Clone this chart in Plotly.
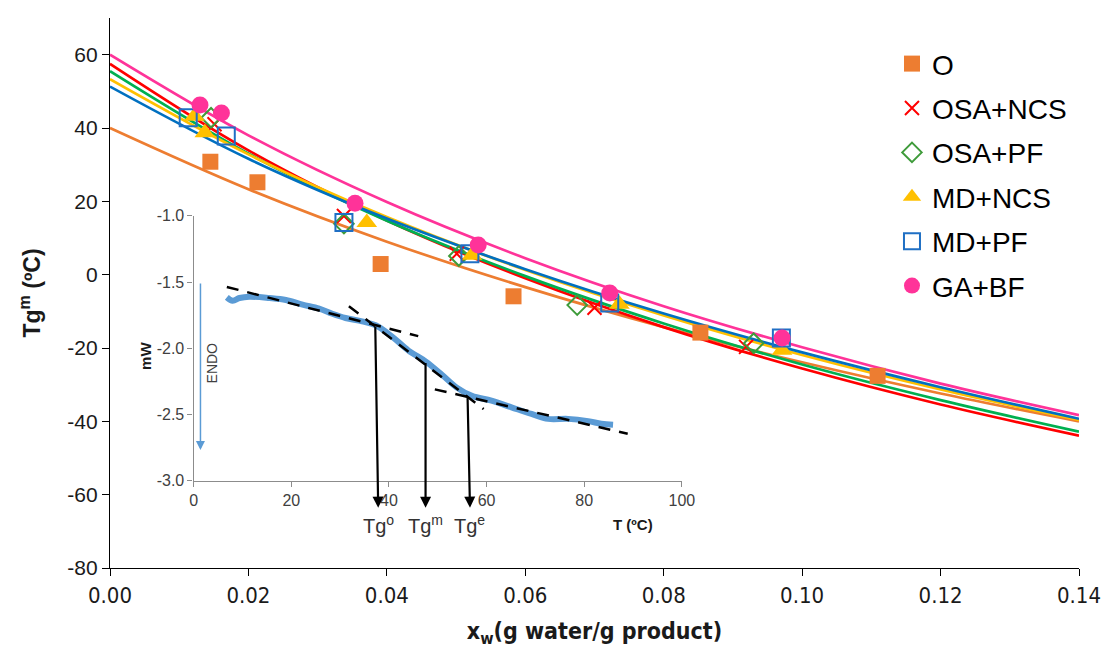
import plotly.graph_objects as go

# ---- Main chart: glass transition temperature vs water content ----
SERIES = ["O", "OSA+NCS", "OSA+PF", "MD+NCS", "MD+PF", "GA+BF"]

# Measured points (x_w, Tg^m)
O_X = [0.0145, 0.0213, 0.0391, 0.0583, 0.0853, 0.1109]
O_Y = [30.8, 25.2, 2.9, -5.9, -15.8, -27.6]

OSA_NCS_X = [0.0151, 0.0338, 0.0501, 0.0700, 0.0919]
OSA_NCS_Y = [41.0, 16.0, 5.7, -9.0, -19.7]

OSA_PF_X = [0.0146, 0.0338, 0.0504, 0.0675, 0.0930]
OSA_PF_Y = [42.8, 13.9, 5.1, -8.3, -18.7]

MD_NCS_X = [0.0122, 0.0137, 0.0371, 0.0523, 0.0736, 0.0971]
MD_NCS_Y = [43.2, 38.7, 14.2, 5.3, -8.1, -20.6]

MD_PF_X = [0.0113, 0.0168, 0.0338, 0.0520, 0.0722, 0.0970]
MD_PF_Y = [42.8, 37.8, 14.2, 5.7, -7.7, -17.3]

GA_BF_X = [0.0130, 0.0161, 0.0354, 0.0532, 0.0722, 0.0971]
GA_BF_Y = [46.3, 44.1, 19.5, 8.1, -5.0, -17.3]

# Fitted curves sampled along x_w
FIT_X = [0.00, 0.02, 0.04, 0.06, 0.08, 0.10, 0.12, 0.14]
O_FIT = [40.0, 23.3, 9.0, -3.4, -14.3, -23.9, -32.4, -40.0]
OSA_NCS_FIT = [57.5, 33.9, 14.8, -1.0, -14.3, -25.6, -35.4, -43.9]
OSA_PF_FIT = [55.5, 33.0, 14.7, -0.4, -13.3, -24.5, -34.2, -42.8]
MD_NCS_FIT = [53.3, 32.8, 15.7, 1.3, -11.1, -21.9, -31.3, -39.6]
MD_PF_FIT = [51.3, 31.6, 15.3, 1.5, -10.6, -21.2, -30.7, -39.3]
GA_BF_FIT = [60.0, 38.0, 19.8, 4.5, -8.6, -19.8, -29.7, -38.3]

X_TICKS = [0.00, 0.02, 0.04, 0.06, 0.08, 0.10, 0.12, 0.14]
Y_TICKS = [-80, -60, -40, -20, 0, 20, 40, 60]

# ---- Inset: DSC thermogram ----
DSC_T = [6.8, 8.0, 9.4, 11.4, 15.5, 18.9, 22.3, 25.7, 28.4, 31.1, 34.5, 37.3,
         40.7, 44.0, 47.5, 50.8, 53.9, 57.0, 61.0, 65.1, 69.2, 72.6, 76.7,
         80.8, 83.5, 85.9]
DSC_MW = [-1.616, -1.641, -1.621, -1.611, -1.621, -1.636, -1.671, -1.701,
          -1.740, -1.772, -1.797, -1.827, -1.914, -2.018, -2.100, -2.199,
          -2.298, -2.360, -2.397, -2.447, -2.497, -2.534, -2.534, -2.551,
          -2.571, -2.579]
BASE1_T, BASE1_MW = [6.8, 46.0], [-1.537, -1.909]
TANGENT_T, TANGENT_MW = [31.8, 59.4], [-1.683, -2.460]
BASE2_T, BASE2_MW = [49.4, 88.9], [-2.311, -2.646]
TG_LABELS = ["Tg<sup>o</sup>", "Tg<sup>m</sup>", "Tg<sup>e</sup>"]
TG_T_TOP = [37.2, 47.5, 56.1]
TG_MW_TOP = [-1.827, -2.100, -2.360]
TG_T_BOTTOM = [37.8, 47.5, 56.6]
INSET_X_TICKS = [0, 20, 40, 60, 80, 100]
INSET_Y_TICKS = [-3.0, -2.5, -2.0, -1.5, -1.0]

LINE_COLORS = ["#ED7D31", "#FF0000", "#00B050", "#FFC000", "#0070C0", "#FF3399"]
FITS = [O_FIT, OSA_NCS_FIT, OSA_PF_FIT, MD_NCS_FIT, MD_PF_FIT, GA_BF_FIT]
POINTS = [(O_X, O_Y), (OSA_NCS_X, OSA_NCS_Y), (OSA_PF_X, OSA_PF_Y),
          (MD_NCS_X, MD_NCS_Y), (MD_PF_X, MD_PF_Y), (GA_BF_X, GA_BF_Y)]
MARKERS = [
    dict(symbol="square", size=16, color="#ED7D31"),
    dict(symbol="x-thin", size=14, color="#FF0000", line=dict(color="#FF0000", width=2)),
    dict(symbol="diamond-open", size=15, color="#3E9B3A", line=dict(width=2)),
    dict(symbol="triangle-up", size=18, color="#FFC000"),
    dict(symbol="square-open", size=17, color="#1F6FC4", line=dict(width=2)),
    dict(symbol="circle", size=17, color="#FF3399"),
]

MAIN_FONT = "Liberation Sans, Arial, sans-serif"
NARROW_FONT = "Liberation Sans Narrow, DejaVu Sans Condensed, Liberation Sans, sans-serif"

# Inset domain on the paper
INSET_XDOM = [0.0863, 0.5902]
INSET_YDOM = [0.159, 0.6403]
INSET_XRANGE = [0, 100]
INSET_YRANGE = [-3.0, -1.0]


def inset_to_paper(tx, mw):
    """Convert inset data coordinates to paper coordinates."""
    px = INSET_XDOM[0] + (tx - INSET_XRANGE[0]) / (INSET_XRANGE[1] - INSET_XRANGE[0]) * (INSET_XDOM[1] - INSET_XDOM[0])
    py = INSET_YDOM[0] + (mw - INSET_YRANGE[0]) / (INSET_YRANGE[1] - INSET_YRANGE[0]) * (INSET_YDOM[1] - INSET_YDOM[0])
    return px, py


def hyphen_labels(vals, fmt):
    return [fmt.format(v) for v in vals]


fig = go.Figure()

# Inset traces
fig.add_trace(go.Scatter(x=DSC_T, y=DSC_MW, mode="lines", xaxis="x2", yaxis="y2",
                         line=dict(color="#5B9BD5", width=6, shape="spline"),
                         showlegend=False, hoverinfo="skip"))
for tx, ty in [(BASE1_T, BASE1_MW), (TANGENT_T, TANGENT_MW), (BASE2_T, BASE2_MW)]:
    fig.add_trace(go.Scatter(x=tx, y=ty, mode="lines", xaxis="x2", yaxis="y2",
                             line=dict(color="black", width=2.5, dash="12px,9px"),
                             showlegend=False, hoverinfo="skip"))

# Fitted curves
for name, fit, col in zip(SERIES, FITS, LINE_COLORS):
    fig.add_trace(go.Scatter(x=FIT_X, y=fit, mode="lines",
                             line=dict(color=col, width=2.7, shape="spline"),
                             showlegend=False, hoverinfo="skip"))

# Experimental points
for name, (px, py), mk in zip(SERIES, POINTS, MARKERS):
    fig.add_trace(go.Scatter(x=px, y=py, mode="markers", name=name,
                             marker=mk, legendgroup=name))

annotations = []
# Tg onset / midpoint / endpoint arrows and their labels
for lab, xt, yt, xb in zip(TG_LABELS, TG_T_TOP, TG_MW_TOP, TG_T_BOTTOM):
    annotations.append(dict(x=xb, y=-3.205, ax=xt, ay=yt, xref="x2", yref="y2",
                            axref="x2", ayref="y2", text="", showarrow=True,
                            arrowhead=2, arrowsize=1, arrowwidth=2.2,
                            arrowcolor="black"))
    lx, ly = inset_to_paper(xb, -3.33)
    annotations.append(dict(x=lx, y=ly, xref="paper", yref="paper", text=lab,
                            showarrow=False, xanchor="center", yanchor="middle",
                            font=dict(family=MAIN_FONT, size=20, color="#333333")))
# ENDO direction arrow
annotations.append(dict(x=1.4, y=-2.77, ax=1.4, ay=-1.5, xref="x2", yref="y2",
                        axref="x2", ayref="y2", text="", showarrow=True,
                        arrowhead=2, arrowsize=1.2, arrowwidth=1.5,
                        arrowcolor="#5B9BD5"))
ex, ey = inset_to_paper(3.7, -2.11)
annotations.append(dict(x=ex, y=ey, xref="paper", yref="paper", text="ENDO",
                        textangle=-90, showarrow=False,
                        xanchor="center", yanchor="middle",
                        font=dict(family=MAIN_FONT, size=14, color="#404040")))
mx, my = inset_to_paper(-10.0, -2.06)
annotations.append(dict(x=mx, y=my, xref="paper", yref="paper", text="<b>mW</b>",
                        textangle=-90, showarrow=False,
                        xanchor="center", yanchor="middle",
                        font=dict(family=MAIN_FONT, size=15, color="#1a1a1a")))
tx_, ty_ = inset_to_paper(90.0, -3.33)
annotations.append(dict(x=tx_, y=ty_, xref="paper", yref="paper", text="<b>T (ºC)</b>",
                        showarrow=False, xanchor="center", yanchor="middle",
                        font=dict(family=MAIN_FONT, size=15, color="#1a1a1a")))

fig.update_layout(
    width=1111, height=651,
    margin=dict(l=110, r=28, t=10, b=83),
    paper_bgcolor="white", plot_bgcolor="rgba(0,0,0,0)",
    font=dict(family=MAIN_FONT, color="#1a1a1a"),
    showlegend=True,
    legend=dict(x=0.807, y=0.962, xanchor="left", yanchor="top",
                font=dict(family=MAIN_FONT, size=28, color="black"),
                traceorder="grouped", tracegroupgap=5,
                bgcolor="rgba(0,0,0,0)"),
    xaxis=dict(range=[0, 0.14], tickvals=X_TICKS, tickformat=".2f",
               showline=True, linecolor="black", linewidth=1.3,
               ticks="outside", ticklen=7, tickcolor="black",
               showgrid=False, zeroline=False,
               tickfont=dict(family=NARROW_FONT, size=22, color="#1a1a1a"),
               title=dict(text="<b>x<sub>w</sub>(g water/g product)</b>",
                          font=dict(family=NARROW_FONT, size=23, color="#1a1a1a"),
                          standoff=16)),
    yaxis=dict(range=[-80, 70], tickvals=Y_TICKS,
               ticktext=hyphen_labels(Y_TICKS, "{:d}"),
               showline=True, linecolor="black", linewidth=1.3,
               ticks="outside", ticklen=7, tickcolor="black",
               showgrid=False, zeroline=False,
               tickfont=dict(family=MAIN_FONT, size=21, color="#1a1a1a"),
               title=dict(text="<b>Tg<sup>m</sup> (ºC)</b>",
                          font=dict(family=MAIN_FONT, size=23, color="#1a1a1a"),
                          standoff=20)),
    xaxis2=dict(domain=INSET_XDOM, anchor="y2", range=INSET_XRANGE,
                tickvals=INSET_X_TICKS, showline=True, linecolor="#8C8C8C",
                linewidth=1.3, ticks="outside", ticklen=5, tickcolor="#8C8C8C",
                showgrid=False, zeroline=False,
                tickfont=dict(family=MAIN_FONT, size=16, color="#404040")),
    yaxis2=dict(domain=INSET_YDOM, anchor="x2", range=INSET_YRANGE,
                tickvals=INSET_Y_TICKS,
                ticktext=hyphen_labels(INSET_Y_TICKS, "{:.1f}"),
                showline=True,
                linecolor="#8C8C8C", linewidth=1.3, ticks="outside", ticklen=5,
                tickcolor="#8C8C8C", showgrid=False, zeroline=False,
                tickfont=dict(family=MAIN_FONT, size=16, color="#404040")),
    annotations=annotations,
)

fig.write_html("out.html")
